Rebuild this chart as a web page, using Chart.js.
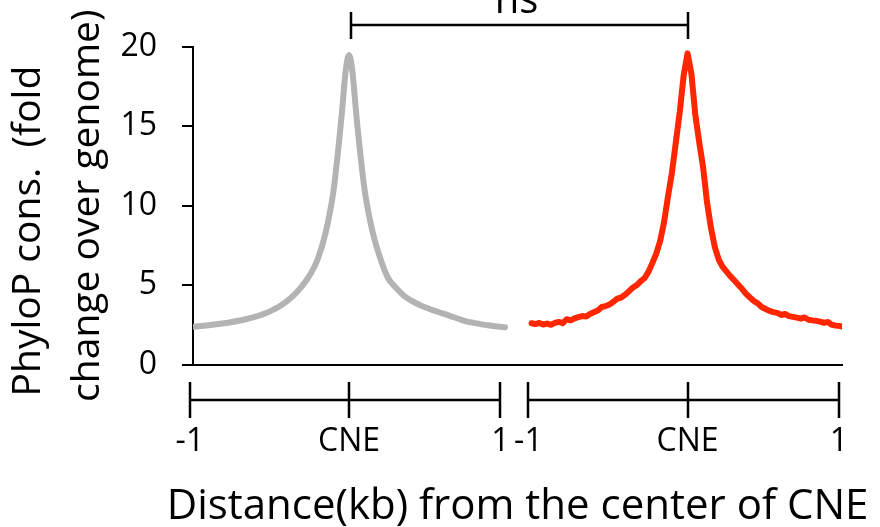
<!DOCTYPE html>
<html>
<head>
<meta charset="utf-8">
<script src="https://cdn.jsdelivr.net/npm/chart.js@4.4.1/dist/chart.umd.min.js"></script>
<style>
  html, body { margin: 0; padding: 0; background: #fff; }
  #chart { display: block; }
</style>
</head>
<body>
<canvas id="chart" width="880" height="527"></canvas>
<script>
// Distance from the CNE centre (kb) and PhyloP fold change
const grayKb = [-1, -0.95, -0.9, -0.85, -0.8, -0.75, -0.7, -0.65, -0.6, -0.55,
  -0.5, -0.45, -0.4, -0.35, -0.3, -0.25, -0.2, -0.15, -0.1, -0.05, -0.02,
  0, 0.02, 0.05, 0.1, 0.15, 0.2, 0.25, 0.3, 0.35, 0.4, 0.45, 0.5, 0.55,
  0.6, 0.65, 0.7, 0.75, 0.8, 0.85, 0.9, 0.95, 1];
const grayValues = [2.37, 2.42, 2.47, 2.53, 2.60, 2.68, 2.77, 2.88, 3.01, 3.17,
  3.38, 3.64, 3.98, 4.40, 4.95, 5.65, 6.65, 8.30, 10.9, 15.4, 18.6,
  19.5, 18.6, 15.4, 11.0, 8.4, 6.7, 5.45, 4.85, 4.35, 4.02, 3.76, 3.56, 3.38,
  3.22, 3.05, 2.88, 2.72, 2.62, 2.53, 2.46, 2.40, 2.35];

const redKb = [-1, -0.975, -0.95, -0.925, -0.9, -0.875, -0.85, -0.825, -0.8, -0.775,
  -0.75, -0.725, -0.7, -0.675, -0.65, -0.625, -0.6, -0.575, -0.55, -0.525,
  -0.5, -0.475, -0.45, -0.425, -0.4, -0.375, -0.35, -0.325, -0.3, -0.275,
  -0.25, -0.225, -0.2, -0.175, -0.15, -0.125, -0.1, -0.075, -0.05, -0.025,
  0,
  0.025, 0.05, 0.075, 0.1, 0.125, 0.15, 0.175, 0.2, 0.225, 0.25,
  0.275, 0.3, 0.325, 0.35, 0.375, 0.4, 0.425, 0.45, 0.475, 0.5,
  0.525, 0.55, 0.575, 0.6, 0.625, 0.65, 0.675, 0.7, 0.725, 0.75,
  0.775, 0.8, 0.825, 0.85, 0.875, 0.9, 0.925, 0.95, 0.975, 1];
const redValues = [2.60, 2.55, 2.62, 2.52, 2.58, 2.50, 2.62, 2.68, 2.60, 2.85,
  2.78, 2.90, 2.98, 3.05, 3.02, 3.18, 3.30, 3.40, 3.62, 3.68,
  3.78, 3.95, 4.15, 4.22, 4.40, 4.62, 4.85, 5.00, 5.25, 5.45,
  5.85, 6.40, 7.00, 7.80, 9.00, 10.6, 12.1, 14.0, 15.9, 18.2,
  19.6,
  18.3, 15.7, 14.0, 12.4, 10.2, 8.6, 7.4, 6.6, 6.15, 5.85,
  5.55, 5.30, 5.02, 4.75, 4.45, 4.22, 4.00, 3.85, 3.62, 3.50,
  3.38, 3.30, 3.25, 3.12, 3.18, 3.05, 3.00, 2.95, 2.90, 2.96,
  2.82, 2.78, 2.75, 2.70, 2.62, 2.68, 2.50, 2.45, 2.42, 2.38];

// the second panel sits to the right of the first on the same x scale
const panelShift = 2.17;
const tickKb = [-1.02, 0, 0.97];
const tickText = ['-1', 'CNE', '1'];
const yTicks = [0, 5, 10, 15, 20];
const sigText = 'ns';
const xTitle = 'Distance(kb) from the center of CNE';

const xTickValues = [];
const xTickLabels = [];
[0, panelShift].forEach(shift => {
  tickKb.forEach((v, i) => {
    xTickValues.push(v + shift);
    xTickLabels.push(tickText[i]);
  });
});

Chart.defaults.font.family = "'Open Sans', 'DejaVu Sans', sans-serif";
Chart.defaults.color = '#000';

// brackets under the axis, the "ns" bar between the peaks, and the x title
// (drawn here because the axis title gets squeezed to the chart width)
const bracketPlugin = {
  id: 'brackets',
  afterDraw(chart) {
    const { ctx, chartArea, scales: { x, y } } = chart;
    ctx.save();
    ctx.strokeStyle = '#000';
    ctx.lineWidth = 2.5;

    const by = Math.round(chartArea.bottom + 35.5);
    [0, panelShift].forEach(shift => {
      const px = tickKb.map(v => Math.round(x.getPixelForValue(v + shift)));
      ctx.beginPath();
      ctx.moveTo(px[0], by);
      ctx.lineTo(px[px.length - 1], by);
      px.forEach(p => {
        ctx.moveTo(p, by - 18);
        ctx.lineTo(p, by + 18);
      });
      ctx.stroke();
    });

    const x1 = Math.round(x.getPixelForValue(0)) + 2;
    const x2 = Math.round(x.getPixelForValue(panelShift));
    const sy = Math.round(y.getPixelForValue(20) - 22);
    ctx.beginPath();
    ctx.moveTo(x1, sy);
    ctx.lineTo(x2, sy);
    ctx.moveTo(x1, sy - 13);
    ctx.lineTo(x1, sy + 14);
    ctx.moveTo(x2, sy - 13);
    ctx.lineTo(x2, sy + 14);
    ctx.stroke();

    ctx.fillStyle = '#000';
    ctx.textAlign = 'center';
    ctx.font = "40px 'Open Sans'";
    ctx.textBaseline = 'alphabetic';
    ctx.fillText(sigText, (x1 + x2) / 2 - 3, sy - 12);

    ctx.font = "42px 'Open Sans'";
    ctx.textBaseline = 'middle';
    ctx.fillText(xTitle, (chartArea.left + chartArea.right) / 2, chart.height - 20);
    ctx.restore();
  }
};

new Chart(document.getElementById('chart'), {
  type: 'line',
  data: {
    datasets: [
      {
        data: grayKb.map((k, i) => ({ x: k, y: grayValues[i] })),
        borderColor: '#b3b3b3',
        borderWidth: 6,
        cubicInterpolationMode: 'monotone',
        borderCapStyle: 'round',
        borderJoinStyle: 'round',
        pointRadius: 0,
        fill: false
      },
      {
        data: redKb.map((k, i) => ({ x: k + panelShift, y: redValues[i] })),
        borderColor: '#ff2600',
        borderWidth: 6,
        tension: 0,
        borderCapStyle: 'round',
        borderJoinStyle: 'round',
        pointRadius: 0,
        fill: false
      }
    ]
  },
  options: {
    responsive: false,
    animation: false,
    layout: { padding: { top: 47, right: 38, bottom: 67, left: 0 } },
    plugins: {
      legend: { display: false },
      tooltip: { enabled: false }
    },
    scales: {
      x: {
        type: 'linear',
        min: -1,
        max: 3.16,
        afterBuildTicks: s => { s.ticks = xTickValues.map(v => ({ value: v })); },
        ticks: {
          color: '#000',
          padding: 0,
          autoSkip: false,
          maxRotation: 0,
          minRotation: 0,
          font: { size: 32, lineHeight: 1.125 },
          callback: (value, index) => xTickLabels[index]
        },
        grid: { display: true, drawOnChartArea: false, color: 'rgba(0,0,0,0)', tickLength: 59.5 },
        border: { color: '#000', width: 2 }
      },
      y: {
        min: 0,
        max: 20,
        afterBuildTicks: s => { s.ticks = yTicks.map(v => ({ value: v })); },
        afterFit: s => { s.width = 193; },
        ticks: { color: '#000', padding: 25, font: { size: 32 } },
        grid: { drawOnChartArea: false, color: '#000', lineWidth: 2, tickLength: 11 },
        border: { color: '#000', width: 2 },
        title: {
          display: true,
          text: ['PhyloP cons.  (fold     ', 'change over genome)'],
          color: '#000',
          font: { size: 39, lineHeight: 1.5 },
          padding: 0
        }
      }
    }
  },
  plugins: [bracketPlugin]
});
</script>
</body>
</html>
